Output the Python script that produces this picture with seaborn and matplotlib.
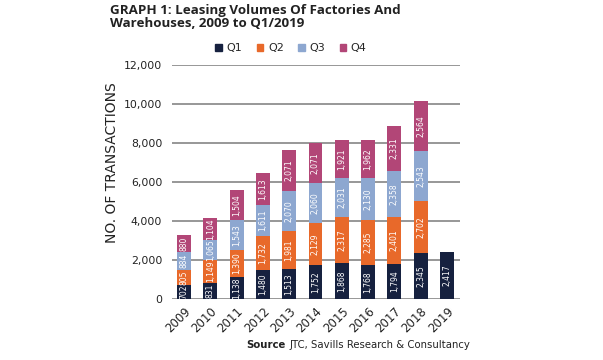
import numpy as np
import pandas as pd
import seaborn as sns
import matplotlib.pyplot as plt

years = ["2009", "2010", "2011", "2012", "2013", "2014", "2015", "2016", "2017", "2018", "2019"]
q1 = [702, 831, 1138, 1480, 1513, 1752, 1868, 1768, 1794, 2345, 2417]
q2 = [805, 1149, 1390, 1732, 1981, 2129, 2317, 2285, 2401, 2702, 0]
q3 = [884, 1065, 1543, 1611, 2070, 2060, 2031, 2130, 2358, 2543, 0]
q4 = [880, 1104, 1504, 1613, 2071, 2071, 1921, 1962, 2331, 2564, 0]

quarters = ["Q1", "Q2", "Q3", "Q4"]
colors = ["#16213f", "#e8692a", "#8da7d0", "#b24677"]

sns.set_theme(style="white")
plt.rcParams['font.family'] = ['DejaVu Sans']

df = pd.DataFrame({"Year": years, "Q1": q1, "Q2": q2, "Q3": q3, "Q4": q4})
vals = df[quarters].to_numpy()
cum = vals.cumsum(axis=1)

fig = plt.figure(figsize=(6.03, 3.6), dpi=100)
ax = fig.add_axes([172 / 603, 1 - 299 / 360, (460 - 172) / 603, (299 - 65) / 360])

# gridlines behind bars
for y in range(0, 12001, 2000):
    ax.axhline(y, color="#7a7a7a", lw=1.1, zorder=0)

# stacked bars: draw cumulative totals from the top down
for i in range(3, -1, -1):
    tmp = pd.DataFrame({"Year": years, "v": cum[:, i]})
    sns.barplot(data=tmp, x="Year", y="v", order=years, color=colors[i],
                width=0.53, saturation=1, linewidth=0, ax=ax, zorder=2)

# value labels inside segments
for j in range(len(years)):
    for i in range(4):
        v = vals[j, i]
        if v == 0:
            continue
        mid = cum[j, i] - v / 2
        ax.text(j, mid, f"{v:,}", rotation=90, ha="center", va="center",
                color="white", fontsize=5.5, zorder=3)

ax.set_xlim(-0.46, 10.5)
ax.set_ylim(0, 12000)
ax.set_yticks(range(0, 12001, 2000))
ax.set_yticklabels([f"{t:,}" for t in range(0, 12001, 2000)], fontsize=7.8, color="#222222")
ax.tick_params(axis="y", length=0, pad=7)
ax.tick_params(axis="x", length=0, pad=4)
ax.set_xticks(range(len(years)))
ax.set_xticklabels(years, rotation=45, ha="right", rotation_mode="anchor",
                   fontsize=8.5, color="#222222")
ax.set_xlabel("")
ax.set_ylabel("NO. OF TRANSACTIONS", fontsize=10, color="#222222")
ax.yaxis.set_label_coords((119 - 172) / 288, (299 - 163) / 234)
for s in ax.spines.values():
    s.set_visible(False)

# legend
handles = [plt.Rectangle((0, 0), 1, 1, color=c) for c in colors]
fig.legend(handles, quarters, loc="center", bbox_to_anchor=(291 / 603, 1 - 48 / 360),
           ncol=4, frameon=False, fontsize=8, handlelength=0.6, handleheight=0.6,
           handletextpad=0.4, columnspacing=1.3)

fig.text(110 / 603, 1 - 4 / 360,
         "GRAPH 1: Leasing Volumes Of Factories And\nWarehouses, 2009 to Q1/2019",
         fontsize=9.6, fontweight="bold", family=["Open Sans", "DejaVu Sans"],
         color="#222222", va="top", ha="left", linespacing=1.0)

src = fig.text(246 / 603, 1 - 345 / 360, "Source", fontsize=7.3, fontweight="bold",
               color="#222222", va="center", ha="left")
fig.canvas.draw()
bb = src.get_window_extent()
fig.text((bb.x1 + 4) / 603, 1 - 345 / 360, "JTC, Savills Research & Consultancy",
         fontsize=7.3, color="#222222", va="center", ha="left")

fig.savefig("out.png", dpi=100)
